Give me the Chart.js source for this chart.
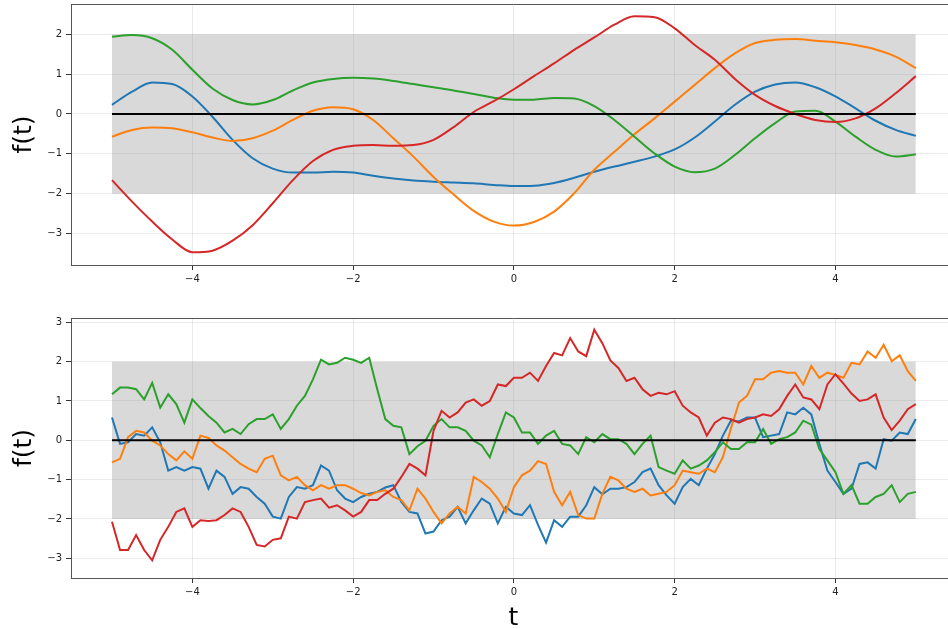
<!DOCTYPE html>
<html>
<head>
<meta charset="utf-8">
<title>GP samples</title>
<script src="https://cdn.jsdelivr.net/npm/chart.js"></script>
<style>
  body { margin: 0; background: #fff; width: 948px; height: 629px; overflow: hidden; position: relative; }
  canvas { position: absolute; left: 0; }
  #topChart { top: 0; }
  #bottomChart { top: 290px; }
</style>
</head>
<body>
<canvas id="topChart" width="960" height="290"></canvas>
<canvas id="bottomChart" width="960" height="339"></canvas>
<script>
// axis ticks
var xTicks = [-4, -2, 0, 2, 4];
var yTicksTop = [-3, -2, -1, 0, 1, 2];
var yTicksBottom = [-3, -2, -1, 0, 1, 2, 3];

// band +-2 and mean line
var bandX = [-5, 5];
var bandHigh = [2, 2];
var bandLow = -2;
var meanLine = [0, 0];

// top panel: smooth samples
var tTop = [-5, -4.75, -4.5, -4.25, -4, -3.75, -3.5, -3.25, -3, -2.75, -2.5, -2.25, -2, -1.75, -1.5, -1.25, -1, -0.75, -0.5, -0.25,
  0, 0.25, 0.5, 0.75, 1, 1.25, 1.5, 1.75, 2, 2.25, 2.5, 2.75, 3, 3.25, 3.5, 3.75, 4, 4.25, 4.5, 4.75, 5];
var blueTop = [0.23, 0.56, 0.79, 0.75, 0.44, -0.07, -0.65, -1.11, -1.37, -1.47, -1.47, -1.45, -1.47, -1.55, -1.62, -1.67, -1.70, -1.72, -1.74, -1.78,
  -1.81, -1.80, -1.73, -1.60, -1.45, -1.32, -1.20, -1.07, -0.89, -0.59, -0.19, 0.23, 0.56, 0.74, 0.79, 0.67, 0.44, 0.14, -0.17, -0.40, -0.55];
var orangeTop = [-0.57, -0.40, -0.34, -0.36, -0.46, -0.59, -0.68, -0.61, -0.42, -0.15, 0.08, 0.17, 0.12, -0.15, -0.61, -1.07, -1.58, -2.02, -2.43, -2.70,
  -2.80, -2.71, -2.45, -1.99, -1.40, -0.95, -0.51, -0.11, 0.31, 0.73, 1.15, 1.52, 1.78, 1.86, 1.88, 1.84, 1.80, 1.73, 1.62, 1.44, 1.15];
var greenTop = [1.94, 1.98, 1.90, 1.61, 1.11, 0.64, 0.35, 0.24, 0.35, 0.59, 0.79, 0.88, 0.91, 0.89, 0.83, 0.75, 0.67, 0.59, 0.50, 0.41,
  0.36, 0.36, 0.40, 0.39, 0.20, -0.15, -0.57, -0.99, -1.32, -1.46, -1.37, -1.03, -0.61, -0.23, 0.06, 0.08, -0.19, -0.57, -0.90, -1.07, -1.01];
var redTop = [-1.66, -2.20, -2.70, -3.15, -3.47, -3.43, -3.18, -2.79, -2.24, -1.66, -1.18, -0.90, -0.80, -0.78, -0.80, -0.78, -0.65, -0.33, 0.05, 0.32,
  0.62, 0.95, 1.27, 1.61, 1.92, 2.24, 2.45, 2.43, 2.15, 1.73, 1.36, 0.88, 0.48, 0.20, 0.00, -0.15, -0.20, -0.11, 0.14, 0.52, 0.95];

// bottom panel: rough samples
var tBottom = [-5, -4.9, -4.8, -4.7, -4.6, -4.5, -4.4, -4.3, -4.2, -4.1,
  -4, -3.9, -3.8, -3.7, -3.6, -3.5, -3.4, -3.3, -3.2, -3.1,
  -3, -2.9, -2.8, -2.7, -2.6, -2.5, -2.4, -2.3, -2.2, -2.1,
  -2, -1.9, -1.8, -1.7, -1.6, -1.5, -1.4, -1.3, -1.2, -1.1,
  -1, -0.9, -0.8, -0.7, -0.6, -0.5, -0.4, -0.3, -0.2, -0.1,
  0, 0.1, 0.2, 0.3, 0.4, 0.5, 0.6, 0.7, 0.8, 0.9,
  1, 1.1, 1.2, 1.3, 1.4, 1.5, 1.6, 1.7, 1.8, 1.9,
  2, 2.1, 2.2, 2.3, 2.4, 2.5, 2.6, 2.7, 2.8, 2.9,
  3, 3.1, 3.2, 3.3, 3.4, 3.5, 3.6, 3.7, 3.8, 3.9,
  4, 4.1, 4.2, 4.3, 4.4, 4.5, 4.6, 4.7, 4.8, 4.9, 5];
var blueBottom = [0.58, -0.09, -0.05, 0.16, 0.12, 0.33, -0.05, -0.77, -0.68, -0.77,
  -0.68, -0.72, -1.23, -0.77, -0.93, -1.36, -1.19, -1.23, -1.44, -1.61,
  -1.94, -1.99, -1.44, -1.19, -1.23, -1.14, -0.64, -0.77, -1.27, -1.48,
  -1.57, -1.44, -1.36, -1.31, -1.20, -1.14, -1.57, -1.82, -1.86, -2.37,
  -2.32, -2.03, -1.94, -1.69, -2.11, -1.78, -1.48, -1.61, -2.11, -1.69,
  -1.86, -1.90, -1.65, -2.15, -2.60, -2.03, -2.20, -1.94, -1.94, -1.65,
  -1.19, -1.37, -1.23, -1.23, -1.19, -1.06, -0.81, -0.72, -1.14, -1.40,
  -1.61, -1.19, -0.98, -1.14, -0.72, -0.35, 0.12, 0.50, 0.48, 0.58,
  0.58, 0.08, 0.12, 0.16, 0.71, 0.66, 0.83, 0.66, -0.09, -0.77,
  -1.06, -1.36, -1.23, -0.60, -0.56, -0.72, 0.03, -0.01, 0.20, 0.16, 0.54];
var orangeBottom = [-0.56, -0.47, 0.08, 0.24, 0.20, -0.01, -0.13, -0.35, -0.51, -0.28,
  -0.47, 0.12, 0.06, -0.13, -0.26, -0.43, -0.60, -0.72, -0.81, -0.47,
  -0.39, -0.89, -1.02, -0.93, -1.14, -1.27, -1.14, -1.23, -1.14, -1.14,
  -1.23, -1.34, -1.40, -1.31, -1.27, -1.44, -1.52, -1.78, -1.23, -1.48,
  -1.82, -2.11, -1.86, -1.69, -1.86, -0.93, -1.06, -1.23, -1.48, -1.82,
  -1.19, -0.89, -0.77, -0.53, -0.60, -1.31, -1.65, -1.31, -1.90, -1.99,
  -1.99, -1.36, -0.93, -1.02, -1.23, -1.31, -1.23, -1.40, -1.36, -1.31,
  -1.14, -0.77, -0.81, -0.85, -0.72, -0.81, -0.43, 0.30, 0.96, 1.13,
  1.55, 1.55, 1.72, 1.76, 1.72, 1.72, 1.42, 1.89, 1.59, 1.72,
  1.66, 1.59, 1.97, 1.93, 2.26, 2.10, 2.43, 2.01, 2.16, 1.76, 1.51];
var greenBottom = [1.17, 1.34, 1.34, 1.30, 1.04, 1.46, 0.83, 1.17, 0.92, 0.45,
  1.04, 0.82, 0.62, 0.45, 0.20, 0.29, 0.16, 0.41, 0.54, 0.54,
  0.66, 0.29, 0.54, 0.88, 1.13, 1.55, 2.05, 1.93, 1.97, 2.10,
  2.05, 1.97, 2.10, 1.30, 0.54, 0.37, 0.33, -0.35, -0.15, -0.01,
  0.37, 0.54, 0.33, 0.33, 0.24, -0.01, -0.13, -0.43, 0.16, 0.71,
  0.58, 0.20, 0.20, -0.09, 0.12, 0.24, -0.09, -0.13, -0.35, 0.08,
  -0.05, 0.16, 0.03, 0.03, -0.09, -0.35, -0.09, 0.12, -0.68, -0.77,
  -0.85, -0.51, -0.72, -0.64, -0.51, -0.30, -0.05, -0.22, -0.22, -0.05,
  -0.05, 0.29, -0.09, 0.03, 0.08, 0.20, 0.50, 0.40, -0.22, -0.51,
  -0.81, -1.36, -1.14, -1.61, -1.61, -1.44, -1.36, -1.14, -1.57, -1.36, -1.31];
var redBottom = [-2.07, -2.79, -2.79, -2.41, -2.79, -3.05, -2.53, -2.20, -1.82, -1.73,
  -2.20, -2.03, -2.05, -2.03, -1.90, -1.73, -1.82, -2.20, -2.66, -2.70,
  -2.53, -2.49, -1.94, -1.99, -1.57, -1.52, -1.48, -1.71, -1.65, -1.78,
  -1.94, -1.82, -1.52, -1.52, -1.36, -1.23, -0.93, -0.60, -0.72, -0.89,
  0.24, 0.75, 0.58, 0.71, 0.96, 1.04, 0.88, 1.00, 1.42, 1.38,
  1.59, 1.59, 1.72, 1.51, 1.89, 2.22, 2.16, 2.60, 2.26, 2.14,
  2.81, 2.47, 2.03, 1.84, 1.51, 1.59, 1.30, 1.13, 1.21, 1.17,
  1.25, 0.88, 0.71, 0.58, 0.12, 0.45, 0.58, 0.54, 0.45, 0.54,
  0.58, 0.66, 0.62, 0.79, 1.13, 1.42, 1.09, 1.04, 0.79, 1.42,
  1.68, 1.44, 1.19, 1.00, 1.04, 1.17, 0.58, 0.26, 0.50, 0.79, 0.92];

var colors = ['#1f77b4', '#ff7f0e', '#2ca02c', '#d62728'];
var FONT = "'DejaVu Sans', sans-serif";

function pts(xs, ys) {
    return xs.map(function (x, i) { return { x: x, y: ys[i] }; });
}

function fmt(v) {
    return v < 0 ? '\u2212' + Math.abs(v) : String(v);
}

// matplotlib style top spine
var topSpine = {
    id: 'topSpine',
    afterDraw: function (chart) {
        var a = chart.chartArea, c = chart.ctx;
        c.save();
        c.strokeStyle = '#555';
        c.lineWidth = 1;
        c.beginPath();
        c.moveTo(a.left, Math.round(a.top) + 0.5);
        c.lineTo(a.right, Math.round(a.top) + 0.5);
        c.stroke();
        c.restore();
    }
};

function makeChart(id, t, series, smooth, yMin, yMax, yTicks, padTop, xHeight, xTitle) {
    var ctx = document.getElementById(id).getContext('2d');
    var datasets = [];
    series.forEach(function (s, i) {
        datasets.push({
            data: pts(t, s),
            borderColor: colors[i],
            borderWidth: 2,
            pointRadius: 0,
            fill: false,
            tension: smooth ? 0.4 : 0,
            cubicInterpolationMode: smooth ? 'monotone' : 'default',
            order: 3 - i
        });
    });
    datasets.push({
        data: pts(bandX, meanLine),
        borderColor: '#000',
        borderWidth: 2,
        pointRadius: 0,
        fill: false,
        order: -1
    });
    datasets.push({
        data: pts(bandX, bandHigh),
        borderWidth: 0,
        pointRadius: 0,
        backgroundColor: 'rgba(128,128,128,0.3)',
        fill: { value: bandLow },
        order: 10
    });

    return new Chart(ctx, {
        type: 'line',
        data: { datasets: datasets },
        options: {
            responsive: false,
            animation: false,
            devicePixelRatio: 1,
            layout: { padding: { top: padTop, right: 4, left: 0, bottom: 0 } },
            plugins: { legend: { display: false }, tooltip: { enabled: false } },
            scales: {
                x: {
                    type: 'linear',
                    min: -5.51,
                    max: 5.5,
                    afterBuildTicks: function (s) { s.ticks = xTicks.map(function (v) { return { value: v }; }); },
                    afterFit: function (s) { s.height = xHeight; s.paddingLeft = 0; s.paddingRight = 0; },
                    grid: { color: 'rgba(0,0,0,0.08)', tickColor: '#333', tickLength: 5 },
                    border: { color: '#555', width: 1 },
                    ticks: { font: { family: FONT, size: 10 }, color: '#222', padding: 3, autoSkip: false, maxRotation: 0, callback: fmt },
                    title: { display: !!xTitle, text: xTitle || '', color: '#000', padding: 0, font: { family: FONT, size: 25, lineHeight: '22px' } }
                },
                y: {
                    min: yMin,
                    max: yMax,
                    afterBuildTicks: function (s) { s.ticks = yTicks.map(function (v) { return { value: v }; }); },
                    afterFit: function (s) { s.width = 71; s.paddingTop = 0; s.paddingBottom = 0; },
                    grid: { color: 'rgba(0,0,0,0.08)', tickColor: '#333', tickLength: 5 },
                    border: { color: '#555', width: 1 },
                    ticks: { font: { family: FONT, size: 10 }, color: '#222', padding: 4, autoSkip: false, callback: fmt },
                    title: { display: true, text: 'f(t)', color: '#000', padding: { top: 13, bottom: 13 }, font: { family: FONT, size: 25, lineHeight: '22px' } }
                }
            }
        },
        plugins: [topSpine]
    });
}

makeChart('topChart', tTop, [blueTop, orangeTop, greenTop, redTop], true, -3.79, 2.76, yTicksTop, 4, 25, null);
makeChart('bottomChart', tBottom, [blueBottom, orangeBottom, greenBottom, redBottom], false, -3.5, 3.11, yTicksBottom, 28, 51, 't');
</script>
</body>
</html>
